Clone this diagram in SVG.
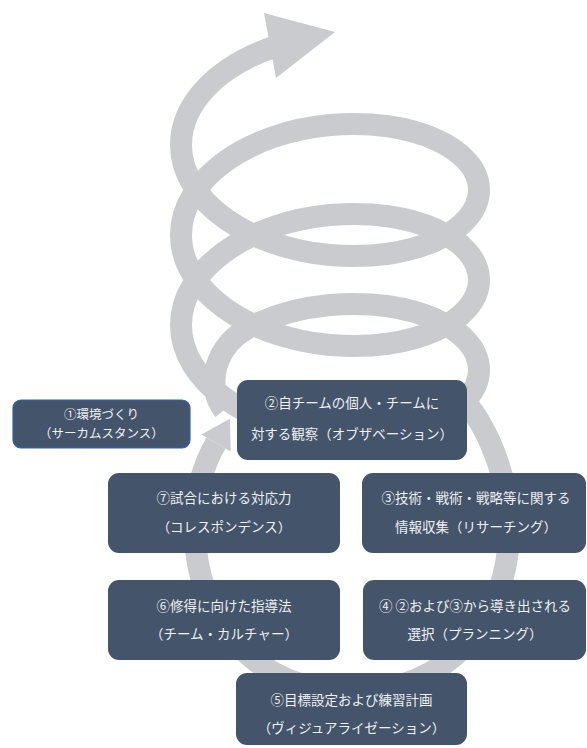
<svg xmlns="http://www.w3.org/2000/svg" width="587" height="748" viewBox="0 0 587 748">
<style>
.band{fill:none;stroke:#c9cbce;stroke-width:22;stroke-linecap:butt;stroke-linejoin:round}
.head{fill:#c9cbce}
.box{fill:#44546a}
.t{font-family:"Noto Sans CJK JP","Noto Sans CJK SC",sans-serif;font-size:13.5px;fill:#eef0f3;text-anchor:middle}
.s{font-size:12.5px}
</style>
<rect width="587" height="748" fill="#ffffff"/>
<g id="connectors">
<path class="band" d="M 224 410 C 206 388, 212 344, 254.3 324.8 C 277.1 314.4, 303.5 307.5, 330 305 C 412.29 297.5, 479 329.17, 479 370 C 479 410.83, 412.29 442.5, 330 435 C 247.71 427.5, 181 380.83, 181 325 C 181 269.17, 247.71 222.5, 330 215 C 412.29 207.5, 479 239.17, 479 280 C 479 320.83, 412.29 352.5, 330 345 C 247.71 337.5, 181 290.83, 181 235 C 181 179.17, 247.71 132.5, 330 125 C 412.29 117.5, 479 149.17, 479 190 C 479 230.83, 412.29 262.5, 330 255 C 247.71 247.5, 181 200.83, 181 145 C 181 103.5, 218 65.8, 274.6 46.8"/>
<polygon class="head" points="264,13 335,32 276,78"/>
<path class="band" d="M 452 388 C 482 414, 509 470, 509 530 C 509 620, 447 692, 352 692 C 257 692, 195 620, 195 530 C 195 490, 203.5 464.75, 216 443"/>
<polygon class="head" points="230,418.7 230.7,451.5 201.3,434.5"/>
</g>
<g id="node1">
<rect class="box" x="13" y="400" width="177" height="48" rx="8" stroke="#2f62b0" stroke-width="1.2"/>
<text class="t s" x="101.5" y="419">①環境づくり</text>
<text class="t s" x="101.5" y="437.5">（サーカムスタンス）</text>
</g>
<g id="node2">
<rect class="box" x="237" y="380" width="230" height="80" rx="11"/>
<text class="t" x="352" y="408">②自チームの個人・チームに</text>
<text class="t" x="352" y="439">対する観察（オブザベーション）</text>
</g>
<g id="node3">
<rect class="box" x="362" y="473" width="224" height="80" rx="11"/>
<text class="t" x="476" y="503">③技術・戦術・戦略等に関する</text>
<text class="t" x="476" y="532">情報収集（リサーチング）</text>
</g>
<g id="node4">
<rect class="box" x="363" y="580" width="223" height="80" rx="11"/>
<text class="t" x="475" y="611">④ ②および③から導き出される</text>
<text class="t" x="475" y="639">選択（プランニング）</text>
</g>
<g id="node5">
<rect class="box" x="236" y="673" width="231" height="72" rx="11"/>
<text class="t" x="351.5" y="705">⑤目標設定および練習計画</text>
<text class="t" x="351.5" y="733">（ヴィジュアライゼーション）</text>
</g>
<g id="node6">
<rect class="box" x="108" y="580" width="232" height="80" rx="11"/>
<text class="t" x="224" y="611">⑥修得に向けた指導法</text>
<text class="t" x="224" y="639">（チーム・カルチャー）</text>
</g>
<g id="node7">
<rect class="box" x="108" y="473" width="232" height="80" rx="11"/>
<text class="t" x="224" y="503">⑦試合における対応力</text>
<text class="t" x="224" y="532">（コレスポンデンス）</text>
</g>
</svg>
